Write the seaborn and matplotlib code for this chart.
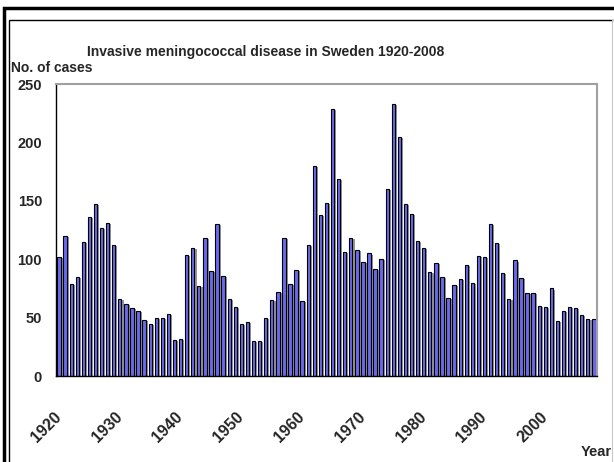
import numpy as np
import pandas as pd
import matplotlib
matplotlib.use("Agg")
import matplotlib.pyplot as plt
import matplotlib.patheffects as pe
from matplotlib.patches import Rectangle
import seaborn as sns

years = list(range(1920, 2009))
cases = [102, 120, 79, 85, 115, 136, 147, 127, 131, 112,
         66, 62, 58, 56, 48, 45, 50, 50, 53, 31,
         32, 104, 110, 77, 118, 90, 130, 86, 66, 59,
         45, 46, 30, 30, 50, 65, 72, 118, 79, 91,
         64, 112, 180, 138, 148, 229, 169, 106, 118, 108,
         98, 105, 92, 100, 160, 233, 205, 147, 139, 116,
         110, 89, 97, 85, 67, 78, 83, 95, 80, 103,
         102, 130, 114, 88, 66, 99, 84, 71, 71, 60,
         59, 75, 47, 56, 59, 58, 52, 49, 49]
tick_years = [1920, 1930, 1940, 1950, 1960, 1970, 1980, 1990, 2000]

df = pd.DataFrame({"year": [str(y) for y in years], "cases": cases})

sns.set_style("white")
plt.rcParams["font.family"] = ["Liberation Sans", "DejaVu Sans"]
plt.rcParams["font.weight"] = "bold"

fig = plt.figure(figsize=(6.14, 4.62), dpi=100)
ax = fig.add_axes([0.0912, 0.186, 0.881, 0.632])

sns.barplot(data=df, x="year", y="cases", color="#6a6af0", saturation=1,
            width=0.55, edgecolor="black", linewidth=0.8, ax=ax)
for p in ax.patches:
    p.set_path_effects([pe.SimplePatchShadow(offset=(1.5, -0.8), shadow_rgbFace="#888888", alpha=0.9),
                        pe.Normal()])

ax.set_ylim(0, 250)
ax.set_xlim(-0.5, len(years) - 0.5)
ax.set_yticks([0, 50, 100, 150, 200, 250])
ax.set_yticklabels(["0", "50", "100", "150", "200", "250"], fontsize=10.5, fontweight="bold")
ax.set_xticks(np.arange(len(years)) - 0.5, minor=True)
ax.set_xticks([years.index(y) for y in tick_years])
ax.set_xticklabels([str(y) for y in tick_years], rotation=45, ha="right", va="center",
                   rotation_mode="anchor", fontsize=11.5, fontweight="bold")
ax.tick_params(axis="x", which="major", length=0, pad=28)
ax.tick_params(axis="x", which="minor", length=5, width=0.8, color="black", direction="out")
ax.tick_params(axis="y", length=5, width=0.8, color="black", direction="out", pad=5)
ax.set_xlabel("")
ax.set_ylabel("")

for s in ["left", "bottom"]:
    ax.spines[s].set_color("black")
    ax.spines[s].set_linewidth(1.0)
for s in ["top", "right"]:
    ax.spines[s].set_color("#a0a0a0")
    ax.spines[s].set_linewidth(1.5)

fig.text(0.433, 0.887, "Invasive meningococcal disease in Sweden 1920-2008",
         ha="center", va="center", fontsize=10, fontweight="bold")
fig.text(0.018, 0.853, "No. of cases", ha="left", va="center", fontsize=10, fontweight="bold")
fig.text(0.997, 0.022, "Year", ha="right", va="center", fontsize=10.5, fontweight="bold")

W, H = 614, 462
fig.add_artist(Rectangle((4 / W, -0.05), 1.1, 1 - 8 / H + 0.05, transform=fig.transFigure,
                         fill=False, edgecolor="black", linewidth=2.5))
fig.add_artist(Rectangle((9 / W, -0.05), 1.1, 1 - 20 / H + 0.05, transform=fig.transFigure,
                         fill=False, edgecolor="black", linewidth=1.0))
fig.add_artist(Rectangle((612 / W, 0), 0.01, 1 - 20 / H, transform=fig.transFigure,
                         fill=False, edgecolor="#c8c8c8", linewidth=0.8))

fig.savefig("out.png", dpi=100)
